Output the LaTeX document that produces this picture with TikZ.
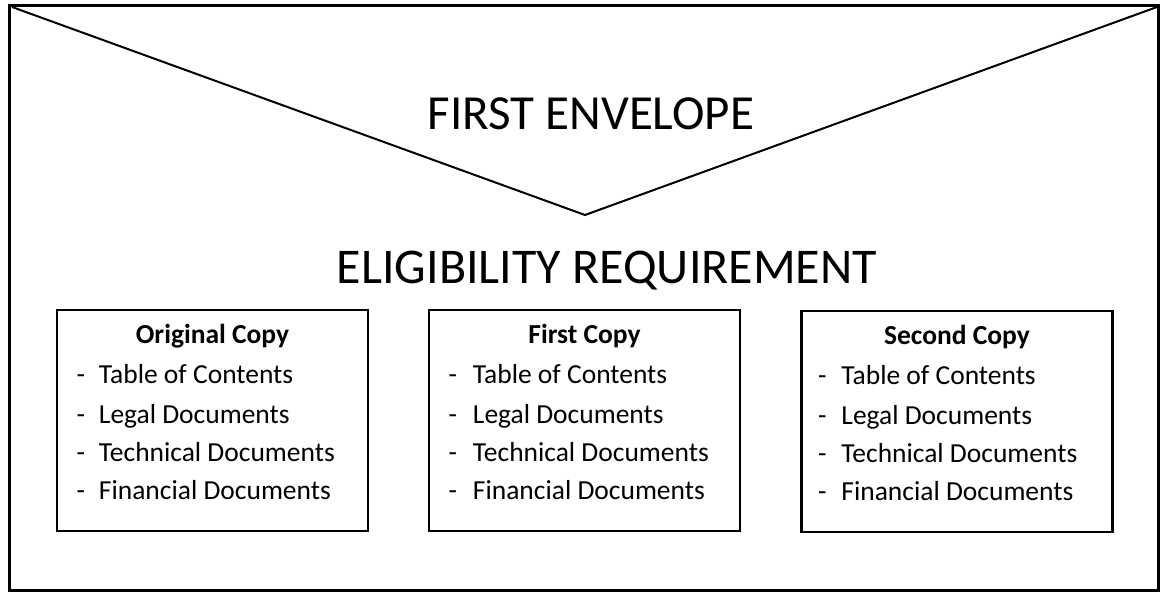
\documentclass[tikz,border=0pt]{standalone}
\usepackage{fontspec}
\setmainfont{Carlito}
\usetikzlibrary{calc}
\begin{document}
\begin{tikzpicture}[x=1pt,y=-1pt,
  frame/.style={line width=3pt},
  flap/.style={line width=2pt, line join=miter},
  copybox/.style={draw, line width=2.5pt, minimum width=311pt, minimum height=221pt, inner sep=0pt},
  title/.style={font=\fontsize{50}{60}\selectfont, anchor=base, inner sep=0pt},
  head/.style={font=\fontsize{27.5}{33}\selectfont\bfseries, anchor=base, inner sep=0pt},
  item/.style={font=\fontsize{27.5}{33}\selectfont, anchor=base west, inner sep=0pt},
  bul/.style={font=\fontsize{27.5}{33}\selectfont, anchor=base, inner sep=0pt}
]
\useasboundingbox (0,0) rectangle (1160,593);
% outer envelope
\node[draw, frame, minimum width=1149pt, minimum height=584pt, inner sep=0pt] (env) at (583.5,298) {};
% flap
\coordinate (tl) at (12,7);
\coordinate (apex) at (585,215);
\coordinate (tr) at (1157,7);
\draw[flap] (tl) -- (apex) -- (tr);
% titles
\node[title, font=\fontsize{49}{60}\selectfont] (first) at (591,130) {FIRST ENVELOPE};
\node[title] (elig) at (607,284) {ELIGIBILITY REQUIREMENT};
% boxes
\node[copybox] (b1) at (212.5,420.5) {};
\node[copybox] (b2) at (584.5,420.5) {};
\node[copybox] (b3) at (957,421.5) {};
\foreach \b/\h/\d/\t in {b1/Original Copy/25/43, b2/First Copy/25/45, b3/Second Copy/22/41}{
  \node[head] (\b-h) at ($(\b.north)+(0,35)$) {\h};
  \node[bul] (\b-d1) at ($(\b.north west)+(\d,75)$) {-};
  \node[item] (\b-i1) at ($(\b.north west)+(\t,75)$) {Table of Contents};
  \node[bul] (\b-d2) at ($(\b.north west)+(\d,115)$) {-};
  \node[item] (\b-i2) at ($(\b.north west)+(\t,115)$) {Legal Documents};
  \node[bul] (\b-d3) at ($(\b.north west)+(\d,153)$) {-};
  \node[item] (\b-i3) at ($(\b.north west)+(\t,153)$) {Technical Documents};
  \node[bul] (\b-d4) at ($(\b.north west)+(\d,191)$) {-};
  \node[item] (\b-i4) at ($(\b.north west)+(\t,191)$) {Financial Documents};
}
\end{tikzpicture}
\end{document}
